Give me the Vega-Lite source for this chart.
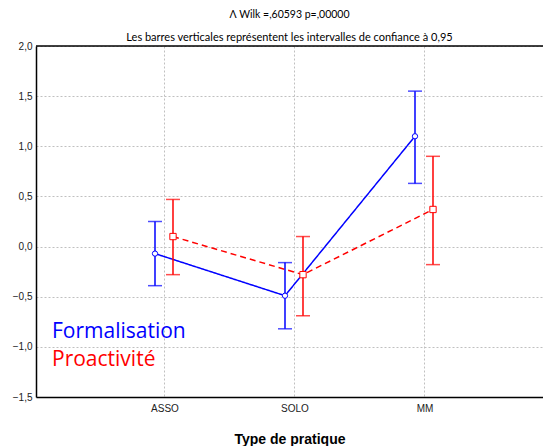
{
  "$schema": "https://vega.github.io/schema/vega-lite/v6.json",
  "width": 507,
  "height": 351,
  "padding": {"left": 12, "top": 9, "right": 0, "bottom": 0},
  "background": "white",
  "title": {
    "text": "Λ Wilk =,60593 p=,00000",
    "subtitle": "Les barres verticales représentent les intervalles de confiance à 0,95",
    "font": "Lato",
    "fontSize": 10.5,
    "fontWeight": "normal",
    "subtitleFont": "Lato",
    "subtitleFontSize": 11,
    "subtitleColor": "#000000",
    "color": "#000000",
    "subtitlePadding": 12,
    "offset": -2,
    "anchor": "middle"
  },
  "config": {
    "view": {"stroke": null},
    "axis": {
      "labelFont": "Liberation Sans",
      "labelFontSize": 10,
      "labelColor": "#222222",
      "domainColor": "#000000",
      "domainWidth": 1.5,
      "gridColor": "#c0c0c0",
      "gridDash": [2, 2],
      "gridWidth": 1,
      "tickColor": "#000000"
    }
  },
  "datasets": {
    "stats": [
      {"series": "Formalisation", "type": "ASSO", "mean": -0.07, "lower": -0.39, "upper": 0.25},
      {"series": "Formalisation", "type": "SOLO", "mean": -0.49, "lower": -0.82, "upper": -0.16},
      {"series": "Formalisation", "type": "MM", "mean": 1.10, "lower": 0.63, "upper": 1.55},
      {"series": "Proactivité", "type": "ASSO", "mean": 0.10, "lower": -0.28, "upper": 0.47},
      {"series": "Proactivité", "type": "SOLO", "mean": -0.28, "lower": -0.69, "upper": 0.10},
      {"series": "Proactivité", "type": "MM", "mean": 0.37, "lower": -0.18, "upper": 0.90}
    ],
    "legendText": [
      {"label": "Formalisation", "pos": -0.85},
      {"label": "Proactivité", "pos": -1.13}
    ]
  },
  "encoding": {
    "x": {
      "field": "type",
      "type": "nominal",
      "sort": ["ASSO", "SOLO", "MM"],
      "scale": {"type": "band", "domain": ["ASSO", "SOLO", "MM"], "paddingInner": 0, "paddingOuter": 0.45, "align": 0.547},
      "axis": {
        "title": "Type de pratique",
        "titleFont": "Liberation Sans",
        "titleFontSize": 14,
        "titleFontWeight": "bold",
        "titleColor": "#000000",
        "titlePadding": 19,
        "labelAngle": 0,
        "labelPadding": 6,
        "tickSize": 0,
        "bandPosition": 0.5,
        "grid": true,
        "domainColor": "#000000"
      }
    }
  },
  "layer": [
    {
      "data": {"values": [{"v": 2.0}]},
      "mark": {"type": "rule", "color": "#000000", "strokeWidth": 1.5},
      "encoding": {"x": null, "y": {"field": "v", "type": "quantitative"}}
    },
    {
      "data": {"name": "stats"},
      "mark": {"type": "line", "strokeWidth": 1.5},
      "encoding": {
        "xOffset": {"field": "series", "type": "nominal", "scale": {"type": "point", "domain": ["Formalisation", "Proactivité"], "range": [55, 73], "padding": 0}},
        "y": {
          "field": "mean",
          "type": "quantitative",
          "scale": {"domain": [-1.5, 2.0], "nice": false, "zero": false},
          "axis": {
            "title": null,
            "values": [-1.5, -1.0, -0.5, 0.0, 0.5, 1.0, 1.5, 2.0],
            "labelExpr": "replace(format(datum.value, '.1f'), '.', ',')",
            "tickSize": 0,
            "labelPadding": 4,
            "grid": true
          }
        },
        "color": {"field": "series", "type": "nominal", "scale": {"domain": ["Formalisation", "Proactivité"], "range": ["#0000ff", "#ff0000"]}, "legend": null},
        "strokeDash": {"field": "series", "type": "nominal", "scale": {"domain": ["Formalisation", "Proactivité"], "range": [[1, 0], [6, 4]]}, "legend": null},
        "detail": {"field": "series"}
      }
    },
    {
      "data": {"name": "stats"},
      "mark": {"type": "rule", "strokeWidth": 1.5},
      "encoding": {
        "xOffset": {"field": "series", "type": "nominal", "scale": {"type": "point", "domain": ["Formalisation", "Proactivité"], "range": [55, 73], "padding": 0}},
        "y": {"field": "lower", "type": "quantitative"},
        "y2": {"field": "upper"},
        "color": {"field": "series", "type": "nominal", "legend": null}
      }
    },
    {
      "data": {"name": "stats"},
      "mark": {"type": "tick", "size": 14, "thickness": 1.5, "orient": "horizontal"},
      "encoding": {
        "xOffset": {"field": "series", "type": "nominal", "scale": {"type": "point", "domain": ["Formalisation", "Proactivité"], "range": [55, 73], "padding": 0}},
        "y": {"field": "lower", "type": "quantitative"},
        "color": {"field": "series", "type": "nominal", "legend": null}
      }
    },
    {
      "data": {"name": "stats"},
      "mark": {"type": "tick", "size": 14, "thickness": 1.5, "orient": "horizontal"},
      "encoding": {
        "xOffset": {"field": "series", "type": "nominal", "scale": {"type": "point", "domain": ["Formalisation", "Proactivité"], "range": [55, 73], "padding": 0}},
        "y": {"field": "upper", "type": "quantitative"},
        "color": {"field": "series", "type": "nominal", "legend": null}
      }
    },
    {
      "data": {"name": "stats"},
      "mark": {"type": "point", "filled": false, "fill": "white", "fillOpacity": 1, "strokeWidth": 1, "opacity": 1},
      "encoding": {
        "xOffset": {"field": "series", "type": "nominal", "scale": {"type": "point", "domain": ["Formalisation", "Proactivité"], "range": [55, 73], "padding": 0}},
        "y": {"field": "mean", "type": "quantitative"},
        "color": {"field": "series", "type": "nominal", "legend": null},
        "shape": {"field": "series", "type": "nominal", "scale": {"domain": ["Formalisation", "Proactivité"], "range": ["circle", "square"]}, "legend": null},
        "size": {"field": "series", "type": "nominal", "scale": {"domain": ["Formalisation", "Proactivité"], "range": [28, 40]}, "legend": null}
      }
    },
    {
      "data": {"name": "legendText"},
      "mark": {"type": "text", "align": "left", "baseline": "middle", "dx": -113, "font": "Open Sans", "fontSize": 21},
      "encoding": {
        "x": {"datum": "ASSO"},
        "y": {"field": "pos", "type": "quantitative"},
        "text": {"field": "label"},
        "color": {"field": "label", "type": "nominal", "legend": null}
      }
    }
  ]
}
